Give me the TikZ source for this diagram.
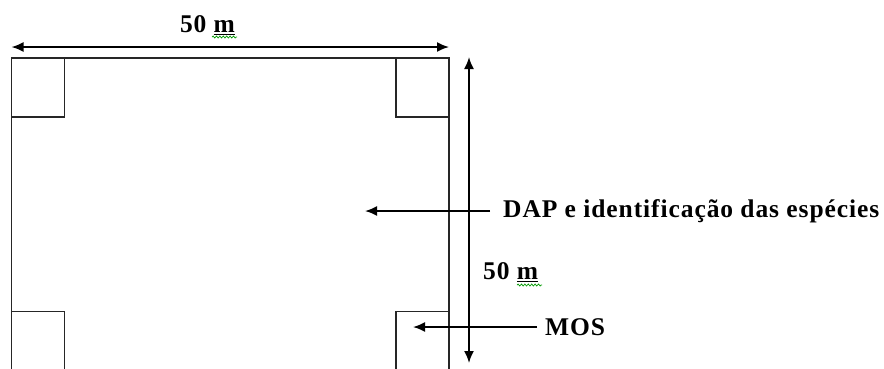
\documentclass[tikz,border=0pt]{standalone}
\usepackage{fontspec}
\setmainfont{Liberation Serif}
\usetikzlibrary{positioning,calc,arrows.meta,decorations.pathmorphing}

\tikzset{
  plotline/.style={line width=1.3pt, draw=black!85},
  dimarrow/.style={line width=1.8pt, <->, >={Latex[length=12pt,width=10pt]}},
  callout/.style={line width=1.8pt, ->, >={Latex[length=12pt,width=10pt]}},
  txt/.style={inner sep=0pt,
    font=\fontsize{25.5}{29}\selectfont\bfseries\addfontfeature{LetterSpace=3.6}},
  squiggle/.style={green!60!black, line width=0.7pt, decorate,
    decoration={snake, amplitude=1pt, segment length=3.4pt}}
}

\begin{document}
\begin{tikzpicture}[x=1pt, y=-1pt]
  \clip (0,0) rectangle (884,368);
  % Main plot with the four corner subplots
  \draw[plotline] (11.5,58) rectangle (449,390);
  \draw[plotline] (11.5,58) rectangle (64.5,117);
  \draw[plotline] (396,58) rectangle (449,117);
  \draw[plotline] (11.5,311.5) rectangle (64.5,390);
  \draw[plotline] (396,311.5) rectangle (449,390);

  % Width dimension
  \coordinate (wleft) at (11.5,47);
  \coordinate (wright) at (449,47);
  \draw[dimarrow] (wleft) -- (wright);
  \node[txt] (wtop) at (207.5,25) {50 \underline{m}};
  \draw[squiggle] (212,37) -- (237,37);

  % Height dimension
  \coordinate (htop) at (469,57);
  \coordinate (hbottom) at (469,363);
  \draw[dimarrow] (hbottom) -- (htop);
  \node[txt, anchor=west] (hright) at (483,272) {50 \underline{m}};
  \draw[squiggle] (517,285) -- (542,285);

  % Callouts
  \coordinate (daptail) at (490,211);
  \coordinate (daphead) at (365,211);
  \draw[callout] (daptail) -- (daphead);
  \node[txt, right=13pt of daptail] (dap) {DAP e identificação das espécies};

  \coordinate (mostail) at (537,327);
  \coordinate (moshead) at (413,327);
  \draw[callout] (mostail) -- (moshead);
  \node[txt, right=8pt of mostail] (mos) {MOS};
\end{tikzpicture}
\end{document}
